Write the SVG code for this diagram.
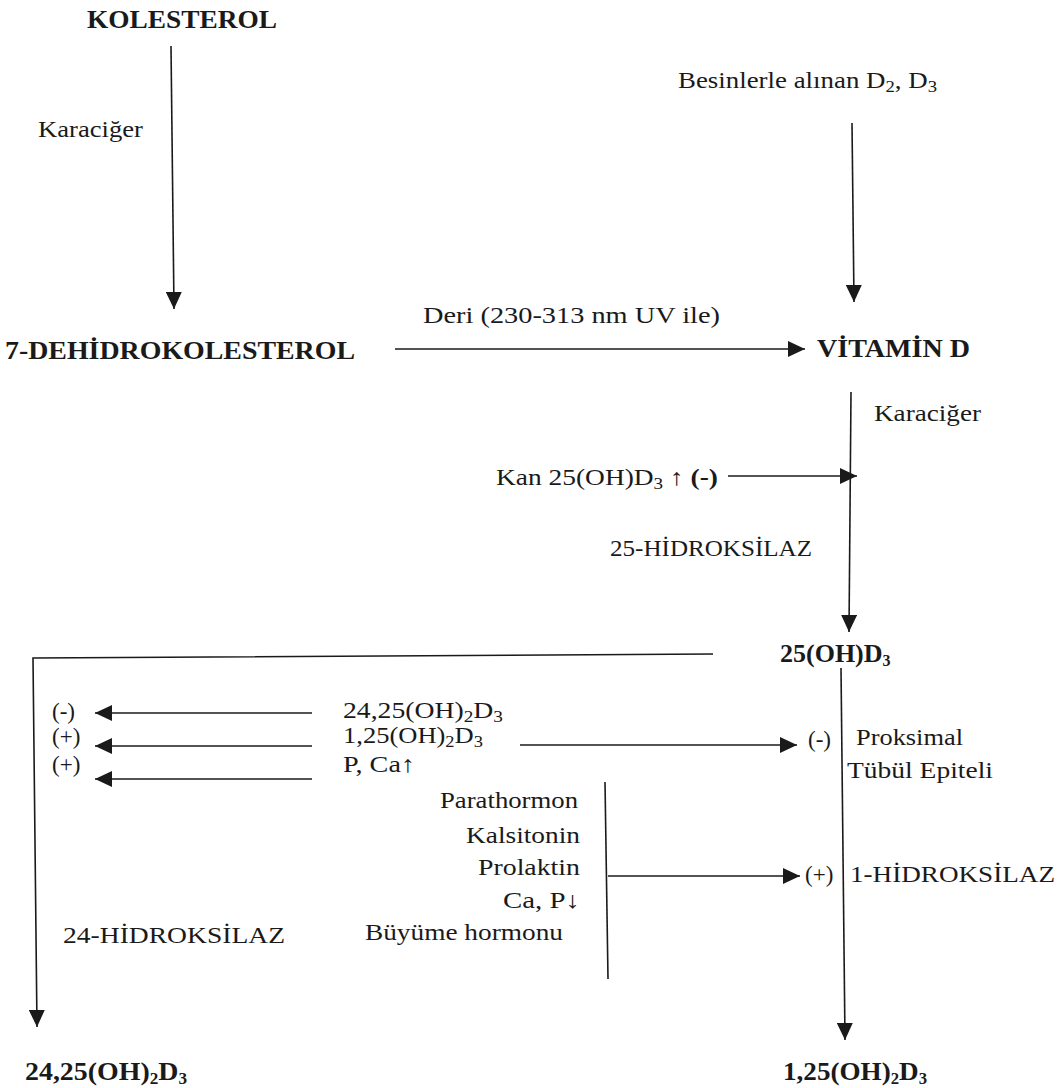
<svg xmlns="http://www.w3.org/2000/svg" width="1058" height="1088" viewBox="0 0 1058 1088">
<defs>
<marker id="ah" markerUnits="userSpaceOnUse" markerWidth="17" markerHeight="16" refX="17" refY="8" orient="auto">
<path d="M0,0 L17,8 L0,16 z" fill="#1a1a1a"/>
</marker>
<style>
text{font-family:"Liberation Serif","Times New Roman",serif;fill:#1a1a1a;font-size:23px}
.b{font-weight:bold;font-size:26px}
.c{stroke:#1a1a1a;stroke-width:1.6;fill:none}
.a{marker-end:url(#ah)}
.s{font-size:16px}
</style>
</defs>
<rect width="1058" height="1088" fill="#fff"/>
<g id="connectors">
<line class="c a" x1="171" y1="46" x2="174" y2="309"/>
<line class="c a" x1="852" y1="123" x2="854" y2="302"/>
<line class="c a" x1="395" y1="349" x2="805" y2="349"/>
<line class="c a" x1="851" y1="392" x2="849" y2="632"/>
<line class="c a" x1="728" y1="476" x2="857" y2="476"/>
<polyline class="c a" points="713,654 33,658 37,1027"/>
<line class="c a" x1="841" y1="668" x2="845" y2="1040"/>
<line class="c a" x1="312" y1="713" x2="95" y2="713"/>
<line class="c a" x1="312" y1="746" x2="95" y2="746"/>
<line class="c a" x1="312" y1="779" x2="95" y2="779"/>
<line class="c a" x1="520" y1="745" x2="797" y2="745"/>
<line class="c" x1="605" y1="782" x2="608" y2="979"/>
<line class="c a" x1="608" y1="876" x2="800" y2="876"/>
</g>
<g id="kolesterol"><text class="b" x="87" y="28" textLength="190" lengthAdjust="spacingAndGlyphs">KOLESTEROL</text></g>
<g id="label-karaciger1"><text x="38" y="137" textLength="105" lengthAdjust="spacingAndGlyphs">Karaciğer</text></g>
<g id="besinler"><text x="678" y="88" textLength="259" lengthAdjust="spacingAndGlyphs">Besinlerle alınan D<tspan class="s" dy="4">2</tspan><tspan dy="-4">, D</tspan><tspan class="s" dy="4">3</tspan></text></g>
<g id="label-deri"><text x="423" y="323" textLength="297" lengthAdjust="spacingAndGlyphs">Deri (230-313 nm  UV ile)</text></g>
<g id="dehidrokolesterol"><text class="b" x="5" y="359" textLength="350" lengthAdjust="spacingAndGlyphs">7-DEHİDROKOLESTEROL</text></g>
<g id="vitamin-d"><text class="b" x="817" y="357" textLength="153" lengthAdjust="spacingAndGlyphs">VİTAMİN D</text></g>
<g id="label-karaciger2"><text x="874" y="421" textLength="107" lengthAdjust="spacingAndGlyphs">Karaciğer</text></g>
<g id="kan"><text x="496" y="485" textLength="222" lengthAdjust="spacingAndGlyphs">Kan 25(OH)D<tspan class="s" dy="4">3</tspan><tspan dy="-4">  ↑  </tspan><tspan font-weight="bold">(-)</tspan></text></g>
<g id="label-25h"><text x="610" y="556" textLength="202" lengthAdjust="spacingAndGlyphs">25-HİDROKSİLAZ</text></g>
<g id="oh-d3"><text class="b" x="780" y="662">25(OH)D<tspan class="s" dy="4">3</tspan></text></g>
<g id="reg-left">
<text x="52" y="719">(-)</text>
<text x="52" y="744">(+)</text>
<text x="52" y="772">(+)</text>
</g>
<g id="reg-sources">
<text x="343" y="718" textLength="160" lengthAdjust="spacingAndGlyphs">24,25(OH)<tspan class="s" dy="4">2</tspan><tspan dy="-4">D</tspan><tspan class="s" dy="4">3</tspan></text>
<text x="343" y="743" textLength="140" lengthAdjust="spacingAndGlyphs">1,25(OH)<tspan class="s" dy="4">2</tspan><tspan dy="-4">D</tspan><tspan class="s" dy="4">3</tspan></text>
<text x="343" y="772" textLength="72" lengthAdjust="spacingAndGlyphs">P, Ca↑</text>
</g>
<g id="proksimal">
<text x="808" y="747">(-)</text>
<text x="856" y="745" textLength="107" lengthAdjust="spacingAndGlyphs">Proksimal</text>
<text x="847" y="778" textLength="146" lengthAdjust="spacingAndGlyphs">Tübül  Epiteli</text>
</g>
<g id="hormones">
<text x="440" y="808" textLength="138" lengthAdjust="spacingAndGlyphs">Parathormon</text>
<text x="466" y="843" textLength="114" lengthAdjust="spacingAndGlyphs">Kalsitonin</text>
<text x="478" y="875" textLength="102" lengthAdjust="spacingAndGlyphs">Prolaktin</text>
<text x="503" y="908" textLength="77" lengthAdjust="spacingAndGlyphs">Ca, P↓</text>
<text x="365" y="940" textLength="198" lengthAdjust="spacingAndGlyphs">Büyüme hormonu</text>
</g>
<g id="label-24h"><text x="63" y="943" textLength="222" lengthAdjust="spacingAndGlyphs">24-HİDROKSİLAZ</text></g>
<g id="hidroksilaz1">
<text x="805" y="882">(+)</text>
<text x="850" y="882" textLength="205" lengthAdjust="spacingAndGlyphs">1-HİDROKSİLAZ</text>
</g>
<g id="d24"><text class="b" x="25" y="1080" textLength="162" lengthAdjust="spacingAndGlyphs">24,25(OH)<tspan class="s" dy="4">2</tspan><tspan dy="-4">D</tspan><tspan class="s" dy="4">3</tspan></text></g>
<g id="d125"><text class="b" x="783" y="1080" textLength="144" lengthAdjust="spacingAndGlyphs">1,25(OH)<tspan class="s" dy="4">2</tspan><tspan dy="-4">D</tspan><tspan class="s" dy="4">3</tspan></text></g>
</svg>
